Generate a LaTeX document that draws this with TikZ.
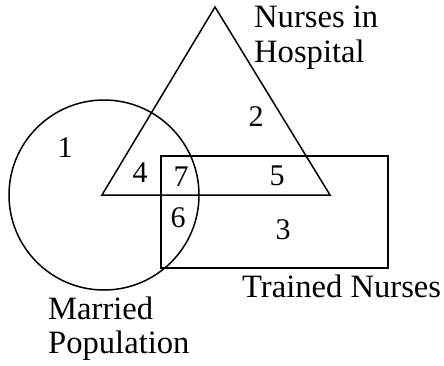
\documentclass[tikz,border=0pt]{standalone}
\usepackage{fontspec}
\setmainfont{Liberation Serif}
\begin{document}
\begin{tikzpicture}[x=1pt,y=-1pt,
  shape line/.style={draw=black,line width=1.5pt,line join=miter},
  lbl/.style={inner sep=0pt,font=\fontsize{32.6}{35}\selectfont},
  num/.style={inner sep=0pt,font=\fontsize{30}{35}\selectfont}]
\useasboundingbox (0,0) rectangle (444,365);
% shapes
\coordinate (apex) at (215,7);
\coordinate (bl) at (102,195);
\coordinate (br) at (330,195);
\draw[shape line] (apex) -- (bl) -- (br) -- cycle;
\draw[shape line] (104,195) circle[radius=95];
\draw[shape line] (161,156) rectangle (388,268);
% labels
\node[lbl,anchor=base west] (nh1) at (254,27) {Nurses in};
\node[lbl,anchor=base west] (nh2) at (254,62) {Hospital};
\node[lbl,anchor=base west] (tn) at (242,297) {Trained Nurses};
\node[lbl,anchor=base west] (mp1) at (48,319) {Married};
\node[lbl,anchor=base west] (mp2) at (48,353) {Population};
% region numbers
\node[num] (n1) at (65,148) {1};
\node[num] (n2) at (256,117) {2};
\node[num] (n3) at (283,230) {3};
\node[num] (n4) at (140,173) {4};
\node[num] (n5) at (277,176) {5};
\node[num] (n6) at (178,218) {6};
\node[num] (n7) at (181,177) {7};
\end{tikzpicture}
\end{document}
